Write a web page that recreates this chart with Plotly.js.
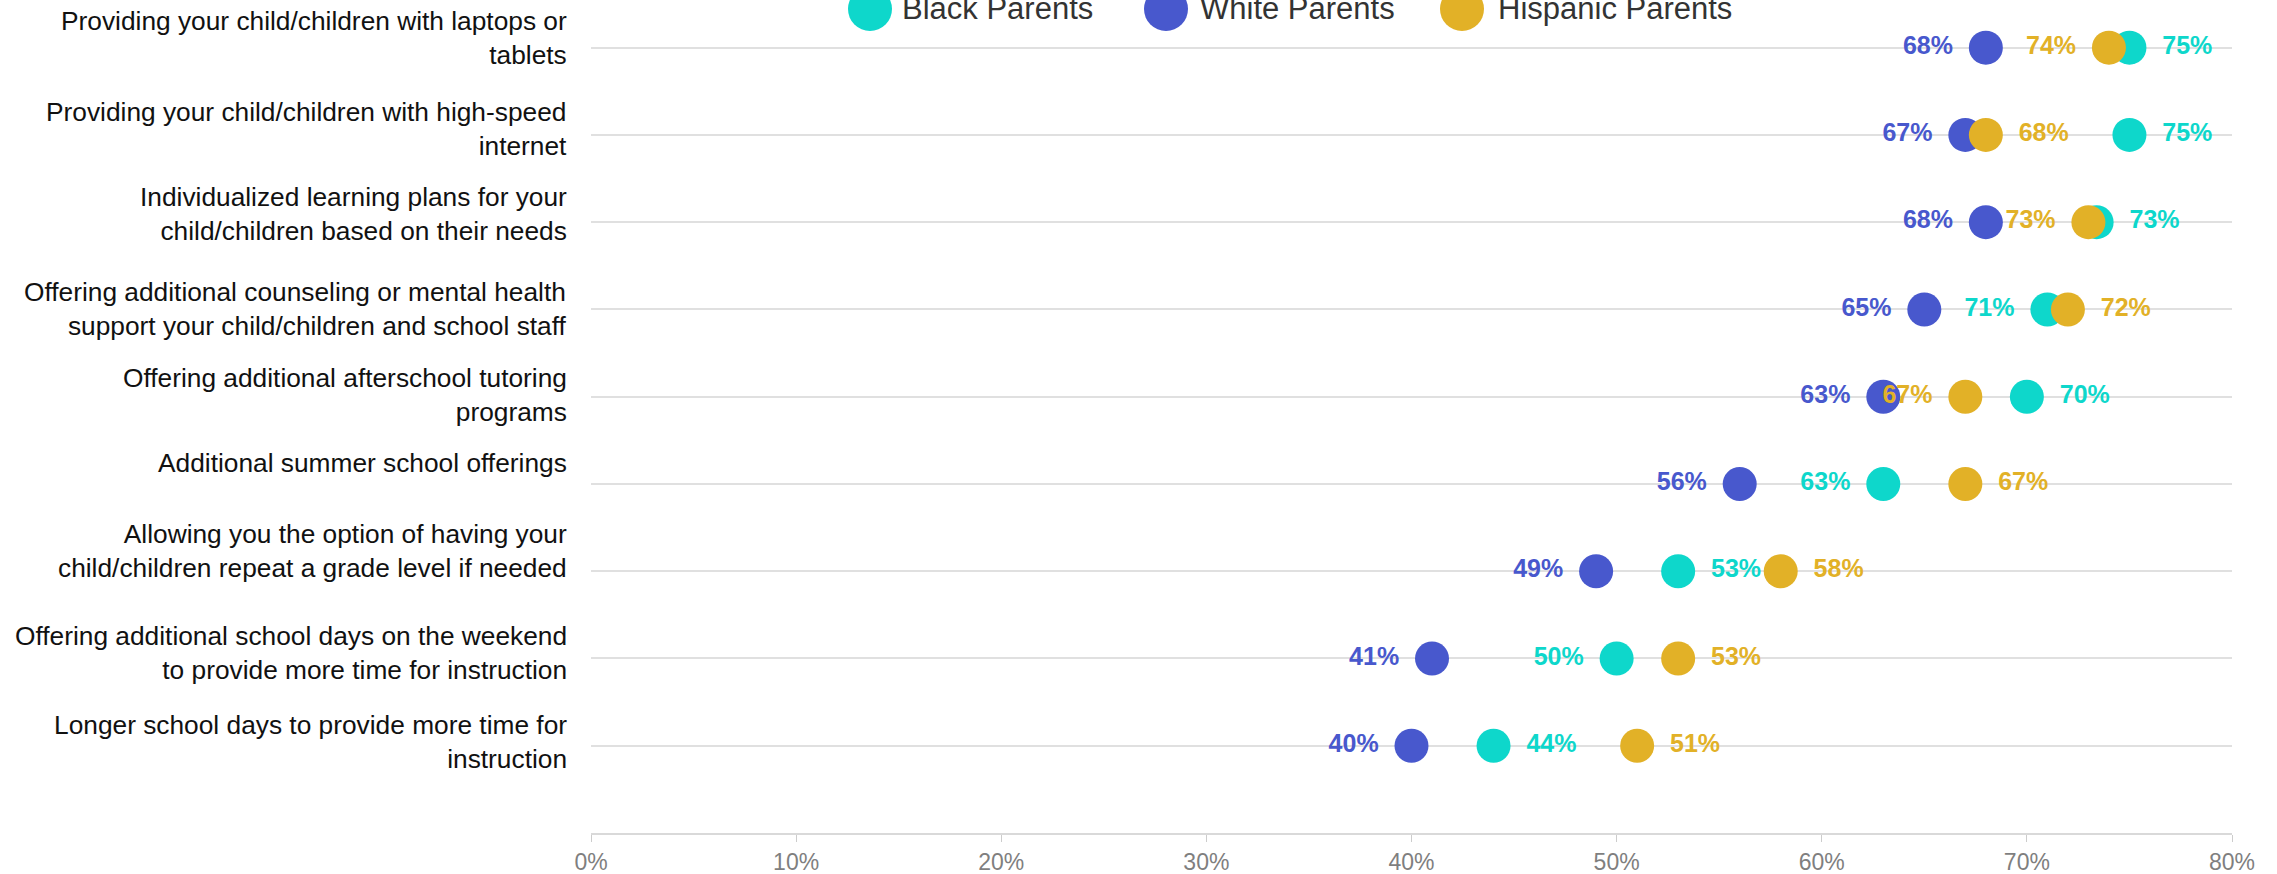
<!DOCTYPE html>
<html>
<head>
<meta charset="utf-8">
<script src="https://cdn.plot.ly/plotly-3.0.1.min.js"></script>
<style>html,body{margin:0;padding:0;background:#fff;}#chart{width:2277px;height:874px;}</style>
</head>
<body>
<div id="chart"></div>
<script>
// ---- Data (top row first) ----
const categories = [
  "Providing your child/children with laptops or<br>tablets",
  "Providing your child/children with high-speed<br>internet",
  "Individualized learning plans for your<br>child/children based on their needs",
  "Offering additional counseling or mental health<br>support your child/children and school staff",
  "Offering additional afterschool tutoring<br>programs",
  "Additional summer school offerings",
  "Allowing you the option of having your<br>child/children repeat a grade level if needed",
  "Offering additional school days on the weekend<br>to provide more time for instruction",
  "Longer school days to provide more time for<br>instruction"
];
const seriesNames = ["Black Parents", "White Parents", "Hispanic Parents"];
const blackParents    = [75, 75, 73.4, 71, 70, 63, 53, 50, 44];
const whiteParents    = [68, 67, 68, 65, 63, 56, 49, 41, 40];
const hispanicParents = [74, 68, 73, 72, 67, 67, 58, 53, 51];
const xTickValues = [0, 10, 20, 30, 40, 50, 60, 70, 80];
const xTickLabels = ["0%", "10%", "20%", "30%", "40%", "50%", "60%", "70%", "80%"];

// label side for each point (L = left of marker, R = right)
const blackSide    = ["R","R","R","L","R","L","R","L","R"];
const whiteSide    = ["L","L","L","L","L","L","L","L","L"];
const hispanicSide = ["L","R","L","R","L","R","R","R","R"];

// ---- Styles ----
const colors = ["#0ed7cb", "#4858cd", "#e2b127"];
const W = 2277, H = 874;
const M = {l: 591, r: 45, t: 4, b: 41};
const plotW = W - M.l - M.r;
const FONT = "Liberation Sans, Arial, Helvetica, sans-serif";
// vertical pixel offsets of the category label blocks (layout only)
const categoryLabelShift = [44, 40, 42, 34, 36, 38, 54, 39, 38];

const seriesVals = [blackParents, whiteParents, hispanicParents];
const seriesSides = [blackSide, whiteSide, hispanicSide];

const traces = [];
// marker traces
seriesVals.forEach((vals, i) => {
  traces.push({
    type: "scatter", mode: "markers",
    name: seriesNames[i],
    x: vals, y: categories,
    marker: {size: 34, color: colors[i], line: {width: 0}},
    showlegend: false, cliponaxis: false
  });
});
// value label traces
seriesVals.forEach((vals, i) => {
  traces.push({
    type: "scatter", mode: "markers+text",
    x: vals, y: categories,
    text: vals.map(v => Math.round(v) + "%"),
    textposition: seriesSides[i].map(s => s === "L" ? "middle left" : "middle right"),
    textfont: {family: FONT, size: 25, color: colors[i], weight: "bold"},
    marker: {size: 51, color: "rgba(0,0,0,0)"},
    hoverinfo: "skip", showlegend: false, cliponaxis: false
  });
});

// y category labels as annotations
const annotations = categories.map((c, k) => ({
  x: 0, xref: "paper", xanchor: "right", xshift: -22,
  y: c, yref: "y", yanchor: "top", yshift: categoryLabelShift[k],
  text: c, showarrow: false, align: "right",
  font: {family: FONT, size: 26.3, color: "#111111"}
}));

// manual legend
const legendCircleX = [870, 1166, 1462];
const legendTextX = [900, 1198, 1496];
const toPaper = px => (px - M.l) / plotW;
const shapes = [];
seriesNames.forEach((n, i) => {
  shapes.push({
    type: "circle", xref: "paper", yref: "paper",
    xsizemode: "pixel", ysizemode: "pixel",
    xanchor: toPaper(legendCircleX[i]), yanchor: 1,
    x0: -22, x1: 22, y0: -27, y1: 17,
    fillcolor: colors[i], line: {width: 0}, layer: "above"
  });
  annotations.push({
    x: toPaper(legendTextX[i]), xref: "paper", xanchor: "left",
    y: 1, yref: "paper", yanchor: "middle", yshift: -4,
    text: n, showarrow: false,
    font: {family: FONT, size: 31, color: "#333333"}
  });
});

const layout = {
  width: W, height: H,
  margin: M,
  paper_bgcolor: "#ffffff", plot_bgcolor: "#ffffff",
  font: {family: FONT},
  showlegend: false,
  xaxis: {
    range: [0, 80], tickmode: "array", tickvals: xTickValues, ticktext: xTickLabels,
    ticks: "outside", ticklen: 7, tickcolor: "#cccccc", tickwidth: 1,
    showline: true, linecolor: "#d9d9d9", linewidth: 2,
    showgrid: false, zeroline: false,
    tickfont: {family: FONT, size: 23, color: "#7f7f7f"}
  },
  yaxis: {
    type: "category", categoryorder: "array",
    categoryarray: categories.slice().reverse(),
    range: [-1, 8.5],
    showgrid: true, gridcolor: "#e0e0e0", gridwidth: 2,
    showticklabels: false, ticks: "", zeroline: false, showline: false
  },
  annotations: annotations,
  shapes: shapes
};

Plotly.newPlot("chart", traces, layout, {displayModeBar: false, staticPlot: true});
</script>
</body>
</html>
